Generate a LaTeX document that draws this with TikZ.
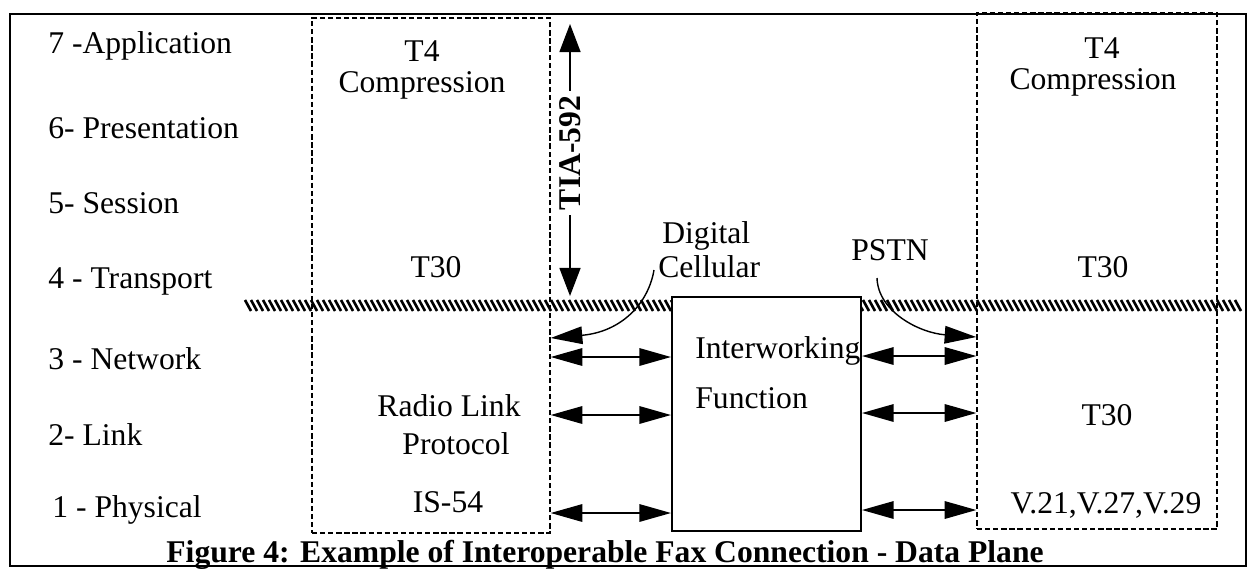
\documentclass[tikz,border=0pt]{standalone}
\usepackage{fontspec}
\setmainfont{Liberation Serif}
\usetikzlibrary{arrows.meta,fit}

\begin{document}
\begin{tikzpicture}[x=0.02cm, y=-0.02cm,
  lyr/.style={anchor=base west, inner sep=0pt, font=\fontsize{18}{20}\selectfont},
  txt/.style={anchor=base, inner sep=0pt, font=\fontsize{18}{20}\selectfont},
  dbox/.style={draw, dash pattern=on 3pt off 1.6pt, line width=0.8pt, inner sep=0pt},
  hatch/.style={line width=1.5pt},
  dblarr/.style={line width=0.8pt,
    {Triangle[length=18pt,width=10pt]}-{Triangle[length=18pt,width=10pt]}},
  curarr/.style={line width=0.8pt, -{Triangle[length=18pt,width=10pt]}}]
\useasboundingbox (0,0) rectangle (1250,568);
% outer frame
\node[draw, line width=0.8pt, inner sep=0pt, fit={(10,14) (1246,566)}] (frame) {};

% OSI layers
\node[lyr] (l7) at (48,53)  {7 -Application};
\node[lyr] (l6) at (48,138) {6- Presentation};
\node[lyr] (l5) at (48,213) {5- Session};
\node[lyr] (l4) at (48,288) {4 - Transport};
\node[lyr] (l3) at (48,369) {3 - Network};
\node[lyr] (l2) at (48,445) {2- Link};
\node[lyr] (l1) at (52,517) {1 - Physical};

% boxes
\node[dbox, fit={(312,18) (550,533)}] (lbox) {};
\node[dbox, fit={(977,13) (1217,529)}] (rbox) {};

% hatched boundary
\foreach \x in {245,251,...,1239}
  \draw[hatch] (\x,300) -- (\x+6,311);

\node[draw, fill=white, line width=1.2pt, inner sep=0pt, fit={(672,297) (861,531)}] (iwf) {};

% texts in the boxes
\node[txt] (t4l)   at (422,61)  {T4};
\node[txt] (compl) at (422,92)  {Compression};
\node[txt] (t30l)  at (436,277) {T30};
\node[txt] (rlp1)  at (449,416) {Radio Link};
\node[txt] (rlp2)  at (456,454) {Protocol};
\node[txt] (is54)  at (448,512) {IS-54};
\node[txt] (t4r)   at (1102,58) {T4};
\node[txt] (compr) at (1093,89) {Compression};
\node[txt] (t30r)  at (1103,277) {T30};
\node[txt] (t30b)  at (1107,425) {T30};
\node[txt] (vmod)  at (1106,513) {V.21,V.27,V.29};
\node[txt, anchor=base west] (iw1) at (695,358) {Interworking};
\node[txt, anchor=base west] (iw2) at (695,408) {Function};

% network labels
\node[txt, anchor=base west] (dig) at (662,243) {Digital};
\node[txt, anchor=base west] (cel) at (658,277) {Cellular};
\node[txt] (pstn) at (890,260) {PSTN};
\coordinate (celfoot) at (654,270);
\coordinate (pstnfoot) at (877,278);

% TIA-592 span
\coordinate (tiatop) at (570,24);
\coordinate (tiabot) at (570,296);
\draw[line width=0.8pt, {Triangle[length=16pt,width=12pt]}-{Triangle[length=16pt,width=12pt]}]
  (tiabot) -- node[pos=0.526, rotate=90, fill=white, inner sep=3pt,
  font=\fontsize{18}{20}\selectfont\bfseries] (tia) {TIA-592} (tiatop);

% interfaces
\draw[curarr] (celfoot) .. controls (648,305) and (620,332) .. (lbox.east |- 0,338);
\draw[curarr] (pstnfoot) .. controls (878,312) and (920,333) .. (rbox.west |- 0,337);
\draw[dblarr] (lbox.east |- 0,357) -- (iwf.west |- 0,357);
\draw[dblarr] (lbox.east |- 0,415) -- (iwf.west |- 0,415);
\draw[dblarr] (lbox.east |- 0,513) -- (iwf.west |- 0,513);
\draw[dblarr] (iwf.east |- 0,356) -- (rbox.west |- 0,356);
\draw[dblarr] (iwf.east |- 0,413) -- (rbox.west |- 0,413);
\draw[dblarr] (iwf.east |- 0,510) -- (rbox.west |- 0,510);

% caption
\node[txt, font=\fontsize{18}{20}\selectfont\bfseries] (cap) at (605,562)
  {Figure 4: Example of Interoperable Fax Connection - Data Plane};
\end{tikzpicture}
\end{document}
